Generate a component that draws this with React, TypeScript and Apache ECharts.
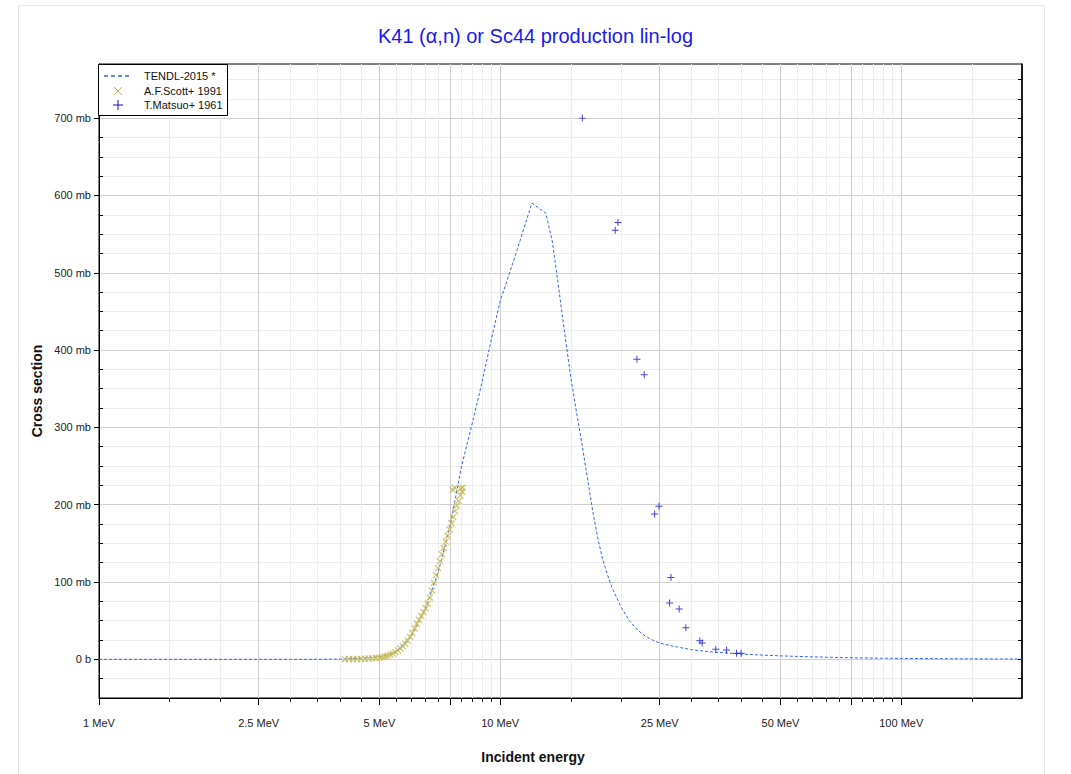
import React, { useEffect, useRef } from 'react';
import * as echarts from 'echarts';

const TITLE = 'K41 (α,n) or Sc44 production lin-log';
const X_NAME = 'Incident energy';
const Y_NAME = 'Cross section';

const X_MIN = 1;
const X_MAX = 200;
const Y_MIN = -50;
const Y_MAX = 770;

const X_LABEL_VALUES = [1, 2.5, 5, 10, 25, 50, 100];
const X_MAJOR_VALUES = [1, 2.5, 5, 7.5, 10, 25, 50, 75, 100];
const X_MINOR_VALUES = [1.5, 2, 3, 3.5, 4, 4.5, 5.5, 6, 6.5, 7, 8, 8.5, 9, 9.5, 15, 20, 30, 35, 40, 45, 55, 60, 65, 70, 80, 85, 90, 95, 150];
const Y_MAJOR_VALUES = [0, 100, 200, 300, 400, 500, 600, 700];
const Y_MINOR_VALUES = [-25, 25, 50, 75, 125, 150, 175, 225, 250, 275, 325, 350, 375, 425, 450, 475, 525, 550, 575, 625, 650, 675, 725, 750];

// TENDL-2015 evaluation (MeV, mb)
const TENDL_E = [1, 2, 3, 3.5, 4, 4.5, 5, 5.5, 6, 6.5, 7, 7.5, 8, 8.5, 9, 9.5, 10, 11, 12, 13, 13.5, 14, 14.5, 15, 15.5, 16, 16.5, 17, 17.5, 18, 18.5, 19, 20, 21, 22, 23, 24, 25, 27, 30, 33, 36, 40, 45, 50, 60, 70, 80, 100, 150, 200];
const TENDL_S = [0, 0, 0, 0.02, 0.3, 1.2, 3, 10, 30, 64, 112, 172, 248, 303, 357, 413, 463, 528, 590, 577, 540, 480, 420, 365, 320, 278, 235, 193, 158, 130, 110, 93, 68, 50, 38, 30, 25, 21, 17, 12.5, 10, 8.5, 6.8, 5.5, 4.5, 3.2, 2.4, 1.8, 1.2, 0.6, 0.4];

// A.F.Scott+ 1991 (MeV, mb)
const SCOTT_E = [4.10, 4.20, 4.30, 4.40, 4.50, 4.60, 4.70, 4.80, 4.90, 5.00, 5.08, 5.16, 5.24, 5.32, 5.40, 5.48, 5.56, 5.64, 5.72, 5.80, 5.88, 5.96, 6.04, 6.12, 6.20, 6.28, 6.36, 6.44, 6.52, 6.60, 6.68, 6.76, 6.84, 6.92, 7.00, 7.08, 7.16, 7.24, 7.32, 7.40, 7.48, 7.56, 7.64, 7.72, 7.80, 7.88, 7.96, 8.04, 7.62, 7.70, 7.98, 8.06];
const SCOTT_S = [0.2, 0.3, 0.4, 0.5, 0.6, 0.8, 1.0, 1.3, 1.7, 2.2, 2.9, 3.7, 4.7, 6.0, 7.5, 9.3, 11.5, 14, 17, 20, 24, 29, 34, 40, 46, 51, 56, 61, 66, 72, 80, 89, 99, 109, 118, 127, 136, 144, 152, 160, 168, 176, 184, 192, 199, 205, 212, 217, 219, 222, 221, 222];

// T.Matsuo+ 1961 (MeV, mb)
const MATSUO_E = [16.03, 19.67, 19.36, 21.93, 22.87, 24.28, 24.89, 26.66, 26.45, 27.95, 29.04, 31.47, 31.89, 34.49, 36.67, 38.84, 39.88];
const MATSUO_S = [700, 565, 555, 388, 368, 188, 198, 106, 73, 65, 41, 24, 21, 13, 12, 8, 8];

const TENDL_COLOR = '#3366ee';
const SCOTT_COLOR = '#c4b852';
const MATSUO_COLOR = '#1111cc';
const FONT = '"Liberation Sans", Arial, sans-serif';

const X_SYMBOL = 'path://M0,1.3 L1.3,0 L5,3.7 L8.7,0 L10,1.3 L6.3,5 L10,8.7 L8.7,10 L5,6.3 L1.3,10 L0,8.7 L3.7,5 Z';
const PLUS_SYMBOL = 'path://M4.3,0 H5.7 V4.3 H10 V5.7 H5.7 V10 H4.3 V5.7 H0 V4.3 H4.3 Z';

const lg = (v: number) => Math.log10(v);
const fmtE = (v: number) => parseFloat(Math.pow(10, v).toPrecision(3)) + ' MeV';

export default function App() {
  const ref = useRef<HTMLDivElement>(null);
  useEffect(() => {
    document.body.style.margin = '0';
    const chart = echarts.init(ref.current!, null, { renderer: 'svg' });
    const xBase = { type: 'value', min: lg(X_MIN), max: lg(X_MAX) };
    const yBase = { type: 'value', min: Y_MIN, max: Y_MAX };
    const legendText = (text: string, y: number) => ({
      type: 'text',
      x: 144,
      y,
      z: 102,
      style: { text, align: 'left', verticalAlign: 'middle', fontSize: 11, fontFamily: FONT, fill: '#111' },
    });
    const legendLine = (x1: number, y1: number, x2: number, y2: number, stroke: string, extra: any = {}) => ({
      type: 'line',
      z: 101,
      shape: { x1, y1, x2, y2 },
      style: { stroke, lineWidth: 1, ...extra },
    });
    chart.setOption({
      animation: false,
      backgroundColor: '#fff',
      title: {
        text: TITLE,
        left: 'center',
        top: 21,
        textStyle: { color: '#1a1aee', fontSize: 20, fontWeight: 'normal', fontFamily: FONT },
      },
      grid: { left: 99, right: 49, top: 64, bottom: 76, show: true, borderColor: '#000', borderWidth: 1, backgroundColor: 'transparent' },
      xAxis: [
        {
          ...xBase,
          position: 'bottom',
          axisLine: { show: true, onZero: false, lineStyle: { color: '#000', width: 1 } },
          axisTick: { show: true, customValues: X_MAJOR_VALUES.map(lg), length: 7, lineStyle: { color: '#000' } },
          axisLabel: { customValues: X_LABEL_VALUES.map(lg), formatter: fmtE, margin: 19, color: '#222', fontSize: 11, fontFamily: FONT },
          splitLine: { show: true, lineStyle: { color: '#cfcfcf', width: 1 } },
        },
        {
          ...xBase,
          position: 'bottom',
          axisLine: { show: false, onZero: false },
          axisTick: { show: true, customValues: X_MINOR_VALUES.map(lg), length: 4, lineStyle: { color: '#000' } },
          axisLabel: { show: false },
          splitLine: { show: true, lineStyle: { color: '#ededed', width: 1 } },
        },
      ],
      yAxis: [
        {
          ...yBase,
          position: 'left',
          axisLine: { show: true, onZero: false, lineStyle: { color: '#000', width: 1 } },
          axisTick: { show: true, customValues: Y_MAJOR_VALUES, length: 5, lineStyle: { color: '#000' } },
          axisLabel: {
            customValues: Y_MAJOR_VALUES,
            formatter: (v: number) => (v === 0 ? '0 b' : v + ' mb'),
            margin: 8,
            color: '#222',
            fontSize: 11,
            fontFamily: FONT,
          },
          splitLine: { show: true, lineStyle: { color: '#cfcfcf', width: 1 } },
        },
        {
          ...yBase,
          position: 'left',
          axisLine: { show: false, onZero: false },
          axisTick: { show: true, inside: true, customValues: Y_MINOR_VALUES, length: 4, lineStyle: { color: '#000' } },
          axisLabel: { show: false },
          splitLine: { show: true, lineStyle: { color: '#ededed', width: 1 } },
        },
        {
          ...yBase,
          position: 'right',
          axisLine: { show: true, onZero: false, lineStyle: { color: '#000', width: 1.5 } },
          axisTick: { show: true, inside: true, customValues: Y_MAJOR_VALUES.concat(Y_MINOR_VALUES), length: 4, lineStyle: { color: '#000' } },
          axisLabel: { show: false },
          splitLine: { show: false },
        },
      ],
      series: [
        {
          name: 'TENDL-2015 *',
          type: 'line',
          data: TENDL_E.map((e, i) => [lg(e), TENDL_S[i]]),
          showSymbol: false,
          symbol: 'none',
          lineStyle: { color: TENDL_COLOR, width: 1, type: [3, 2] },
          z: 3,
        },
        {
          name: 'A.F.Scott+ 1991',
          type: 'scatter',
          data: SCOTT_E.map((e, i) => [lg(e), SCOTT_S[i]]),
          symbol: X_SYMBOL,
          symbolSize: 7,
          itemStyle: { color: SCOTT_COLOR },
          z: 4,
        },
        {
          name: 'T.Matsuo+ 1961',
          type: 'scatter',
          data: MATSUO_E.map((e, i) => [lg(e), MATSUO_S[i]]),
          symbol: PLUS_SYMBOL,
          symbolSize: 7,
          itemStyle: { color: MATSUO_COLOR },
          z: 4,
        },
      ],
      graphic: [
        {
          type: 'rect',
          shape: { x: 18.5, y: 5.5, width: 1026, height: 790 },
          style: { fill: 'none', stroke: '#e6e6e6', lineWidth: 1 },
          silent: true,
          z: -10,
        },
        {
          type: 'text',
          x: 533,
          y: 757,
          style: { text: X_NAME, align: 'center', verticalAlign: 'middle', fontSize: 14, fontWeight: 'bold', fontFamily: FONT, fill: '#111' },
        },
        {
          type: 'text',
          x: 37,
          y: 391,
          rotation: Math.PI / 2,
          style: { text: Y_NAME, align: 'center', verticalAlign: 'middle', fontSize: 14, fontWeight: 'bold', fontFamily: FONT, fill: '#111' },
        },
        { type: 'rect', z: 100, shape: { x: 98.5, y: 64.5, width: 129, height: 51 }, style: { fill: '#fff', stroke: '#000', lineWidth: 1 } },
        legendLine(104, 76, 131, 76, TENDL_COLOR, { lineWidth: 1.5, lineDash: [4, 3] }),
        legendLine(114, 87, 122, 95, SCOTT_COLOR),
        legendLine(114, 95, 122, 87, SCOTT_COLOR),
        legendLine(113, 105, 123, 105, MATSUO_COLOR),
        legendLine(118, 100, 118, 110, MATSUO_COLOR),
        legendText('TENDL-2015 *', 76),
        legendText('A.F.Scott+ 1991', 91),
        legendText('T.Matsuo+ 1961', 105),
      ],
    });
    return () => chart.dispose();
  }, []);
  return <div ref={ref} style={{ width: 1071, height: 774 }} />;
}
